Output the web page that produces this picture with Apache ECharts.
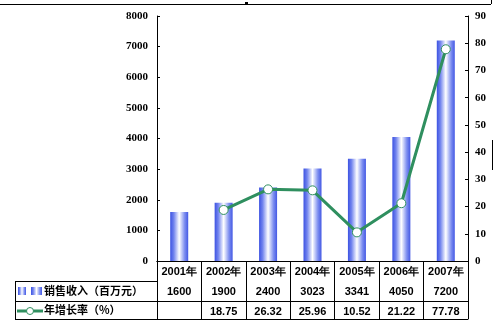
<!DOCTYPE html>
<html><head><meta charset="utf-8">
<script src="https://cdn.jsdelivr.net/npm/echarts@6/dist/echarts.min.js"></script>
<style>html,body{margin:0;padding:0;background:#fff}#c{width:494px;height:326px}</style>
</head><body><div id="c"></div>
<script>
var categories = ['2001年','2002年','2003年','2004年','2005年','2006年','2007年'];
var sales = [1600, 1900, 2400, 3023, 3341, 4050, 7200];
var growth = [null, 18.75, 26.32, 25.96, 10.52, 21.22, 77.78];
var leftTicks = [0, 8000, 1000];
var rightTicks = [0, 90, 10];
var salesName = '销售收入（百万元）';
var growthName = '年增长率（%）';

var chart = echarts.init(document.getElementById('c'));
var barGrad = new echarts.graphic.LinearGradient(0,0,1,0,[
  {offset:0,color:'#3c52e2'},{offset:0.2,color:'#7284ee'},{offset:0.5,color:'#ffffff'},
  {offset:0.8,color:'#7d8ef0'},{offset:1,color:'#4358e4'}]);
var axisFont = {fontFamily:'Liberation Serif', fontWeight:'bold', fontSize:11, color:'#000'};
var tblFont = {fontFamily:'Liberation Sans', fontWeight:'bold', fontSize:11, color:'#000'};
function fmtVal(arr){ return function(v){ var x = arr[categories.indexOf(v)]; return x==null?'':String(x); }; }
function plain(v){ return String(v); }
function rowAxis(off, fmt){
  return {type:'category', data:categories, position:'bottom', offset:off,
    axisLine:{show:true, lineStyle:{color:'#000',width:1}}, axisTick:{show:false},
    axisLabel:Object.assign({margin:5, interval:0, formatter:fmt}, tblFont)};
}
chart.setOption({
  animation:false,
  grid:{left:157, right:26, top:16, bottom:65},
  xAxis:[
    {type:'category', data:categories, position:'bottom',
     axisLine:{lineStyle:{color:'#000',width:1}},
     axisTick:{show:true, inside:false, interval:0, length:58, lineStyle:{color:'#000'}},
     axisLabel:Object.assign({margin:5, interval:0}, tblFont)},
    rowAxis(20, fmtVal(sales)),
    rowAxis(40, fmtVal(growth)),
    rowAxis(58, function(){return '';})
  ],
  yAxis:[
    {type:'value', min:leftTicks[0], max:leftTicks[1], interval:leftTicks[2], position:'left',
     axisLine:{show:true, lineStyle:{color:'#000'}}, axisTick:{show:true, inside:true, length:3, lineStyle:{color:'#000'}},
     splitLine:{show:false}, axisLabel:Object.assign({margin:9, formatter:plain}, axisFont)},
    {type:'value', min:rightTicks[0], max:rightTicks[1], interval:rightTicks[2], position:'right',
     axisLine:{show:true, lineStyle:{color:'#000'}}, axisTick:{show:true, inside:true, length:3, lineStyle:{color:'#000'}},
     splitLine:{show:false}, axisLabel:Object.assign({margin:7, formatter:plain}, axisFont)}
  ],
  series:[
    {name:salesName, type:'bar', data:sales, barWidth:18, itemStyle:{color:barGrad}},
    {name:growthName, type:'line', yAxisIndex:1, data:growth, symbol:'circle', symbolSize:9,
     lineStyle:{color:'#2f8f5f', width:3}, itemStyle:{color:'#fff', borderColor:'#2f8f5f', borderWidth:1}}
  ],
  graphic:[
    {type:'line', shape:{x1:0,y1:4.5,x2:491,y2:4.5}, style:{stroke:'#000',lineWidth:1}},
    {type:'line', shape:{x1:491.5,y1:0,x2:491.5,y2:4}, style:{stroke:'#000',lineWidth:1}},
    {type:'rect', shape:{x:245,y:2,width:3,height:3}, style:{fill:'#000'}},
    {type:'line', shape:{x1:492.5,y1:140,x2:492.5,y2:170}, style:{stroke:'#000',lineWidth:1}},
    {type:'line', shape:{x1:15,y1:281.5,x2:157,y2:281.5}, style:{stroke:'#000',lineWidth:1}},
    {type:'line', shape:{x1:15,y1:301.5,x2:157,y2:301.5}, style:{stroke:'#000',lineWidth:1}},
    {type:'line', shape:{x1:15,y1:319.5,x2:157,y2:319.5}, style:{stroke:'#000',lineWidth:1}},
    {type:'line', shape:{x1:15.5,y1:281,x2:15.5,y2:320}, style:{stroke:'#000',lineWidth:1}},
    {type:'rect', shape:{x:18,y:287,width:8,height:8}, style:{fill:barGrad}},
    {type:'rect', shape:{x:31,y:287,width:11,height:8}, style:{fill:barGrad}},
    {type:'text', left:44, top:285, style:{text:salesName, fontFamily:'Noto Sans CJK SC', fontWeight:'bold', fontSize:11, fill:'#000'}},
    {type:'line', shape:{x1:17,y1:311,x2:43,y2:311}, style:{stroke:'#2f8f5f',lineWidth:3}},
    {type:'circle', shape:{cx:30,cy:311,r:3.5}, style:{fill:'#fff',stroke:'#2f8f5f',lineWidth:1}},
    {type:'text', left:44, top:304, style:{text:growthName, fontFamily:'Noto Sans CJK SC', fontWeight:'bold', fontSize:11, fill:'#000'}}
  ]
});
</script></body></html>
